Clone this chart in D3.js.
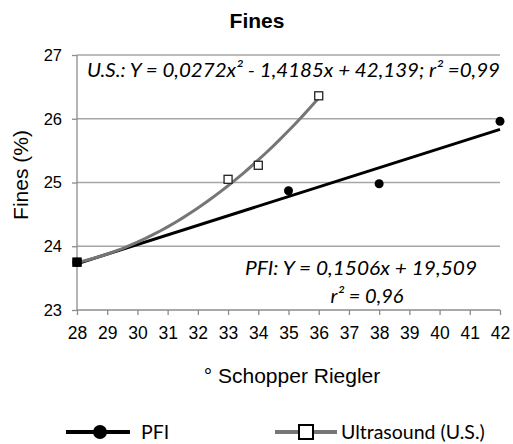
<!DOCTYPE html>
<html>
<head>
<meta charset="utf-8">
<script src="https://cdn.jsdelivr.net/npm/d3@7"></script>
<style>
  body { margin: 0; background: #fff; }
  svg { display: block; }
  .tick text { font-family: "Liberation Sans", Arial, sans-serif; font-size: 16.5px; fill: #000; }
  .x-axis .tick text { font-size: 17.5px; }
</style>
</head>
<body>
<div id="chart"></div>
<script>
'use strict';

// data
const schopper = [28, 29, 30, 31, 32, 33, 34, 35, 36, 37, 38, 39, 40, 41, 42];
const finesTicks = [23, 24, 25, 26, 27];

const pfiX = [28, 35, 38, 42];
const pfiY = [23.75, 24.87, 24.98, 25.96];

const usX = [28, 33, 34, 36];
const usY = [23.75, 25.05, 25.27, 26.36];

// trend line coefficients, as printed on the chart
const pfiFit = [0.1506, 19.509];          // a*x + b
const usFit = [0.0272, -1.4185, 42.139];  // a*x^2 + b*x + c

const width = 513,
  height = 444;

const plotLeft = 77, plotRight = 500, plotTop = 55, plotBottom = 310;

const sansFont = '"Liberation Sans", Arial, sans-serif';
const eqFont = 'Lato, "Open Sans", sans-serif';

const svg = d3.select('#chart')
  .append('svg')
  .attr('width', width)
  .attr('height', height);

const xScale = d3.scaleLinear().domain([28, 42]).range([plotLeft, plotRight]);
const yScale = d3.scaleLinear().domain([23, 27]).range([plotBottom, plotTop]);

// grid
svg.append('g')
  .selectAll('line')
  .data(finesTicks.slice(1))
  .enter()
  .append('line')
  .attr('x1', plotLeft)
  .attr('x2', plotRight)
  .attr('y1', d => yScale(d))
  .attr('y2', d => yScale(d))
  .attr('stroke', '#a6a6a6')
  .attr('stroke-width', 1.3);

const xAxis = d3.axisBottom(xScale).tickValues(schopper).tickSize(5).tickPadding(12).tickFormat(d3.format('d'));
const yAxis = d3.axisLeft(yScale).tickValues(finesTicks).tickSize(5).tickPadding(10).tickFormat(d3.format('d'));

const gx = svg.append('g')
  .attr('class', 'x-axis')
  .attr('transform', `translate(0, ${plotBottom})`)
  .call(xAxis);
const gy = svg.append('g')
  .attr('transform', `translate(${plotLeft}, 0)`)
  .call(yAxis);

[gx, gy].forEach(g => {
  g.select('.domain').attr('stroke', '#8c8c8c').attr('stroke-width', 1.3);
  g.selectAll('.tick line').attr('stroke', '#8c8c8c').attr('stroke-width', 1.3);
});
gy.select('.domain').attr('d', `M0,${plotBottom}V${plotTop}`);
gx.select('.domain').attr('d', `M${plotLeft},0H${plotRight}`);

// trend lines
const line = d3.line().x(d => xScale(d[0])).y(d => yScale(d[1]));

const pfiTrend = [28, 42].map(x => [x, pfiFit[0] * x + pfiFit[1]]);
const usTrend = d3.range(28, 36.01, 0.25).map(x => [x, usFit[0] * x * x + usFit[1] * x + usFit[2]]);

svg.append('path')
  .attr('d', line(pfiTrend))
  .attr('fill', 'none')
  .attr('stroke', '#000')
  .attr('stroke-width', 3);

svg.append('path')
  .attr('d', line(usTrend))
  .attr('fill', 'none')
  .attr('stroke', '#767676')
  .attr('stroke-width', 3);

// markers
svg.append('g')
  .selectAll('rect')
  .data(usX.map((x, i) => [x, usY[i]]))
  .enter()
  .append('rect')
  .attr('x', d => xScale(d[0]) - 4)
  .attr('y', d => yScale(d[1]) - 4)
  .attr('width', 8)
  .attr('height', 8)
  .attr('fill', '#fff')
  .attr('stroke', '#222')
  .attr('stroke-width', 1.3);

svg.append('g')
  .selectAll('circle')
  .data(pfiX.map((x, i) => [x, pfiY[i]]))
  .enter()
  .append('circle')
  .attr('cx', d => xScale(d[0]))
  .attr('cy', d => yScale(d[1]))
  .attr('r', 4.5)
  .attr('fill', '#000');

// the first point shows as a black square
svg.append('rect')
  .attr('x', xScale(usX[0]) - 4.5)
  .attr('y', yScale(usY[0]) - 4.5)
  .attr('width', 9)
  .attr('height', 9)
  .attr('fill', '#000');

// titles
svg.append('text')
  .attr('x', 257)
  .attr('y', 28)
  .attr('text-anchor', 'middle')
  .style('font-family', sansFont)
  .style('font-weight', 'bold')
  .style('font-size', '21px')
  .text('Fines');

svg.append('text')
  .attr('x', 292)
  .attr('y', 383)
  .attr('text-anchor', 'middle')
  .style('font-family', sansFont)
  .style('font-size', '21px')
  .text('° Schopper Riegler');

svg.append('text')
  .attr('transform', 'translate(28, 175) rotate(-90)')
  .attr('text-anchor', 'middle')
  .style('font-family', sansFont)
  .style('font-size', '21px')
  .text('Fines (%)');

// equations
svg.append('text')
  .attr('x', 87)
  .attr('y', 77)
  .attr('textLength', 413)
  .attr('lengthAdjust', 'spacingAndGlyphs')
  .style('font-family', eqFont)
  .style('font-style', 'italic')
  .style('font-size', '20px')
  .text('U.S.: Y = 0,0272x² - 1,4185x + 42,139; r² =0,99');

svg.append('text')
  .attr('x', 245)
  .attr('y', 275)
  .attr('textLength', 232)
  .attr('lengthAdjust', 'spacingAndGlyphs')
  .style('font-family', eqFont)
  .style('font-style', 'italic')
  .style('font-size', '20px')
  .text('PFI: Y = 0,1506x + 19,509');

svg.append('text')
  .attr('x', 367)
  .attr('y', 303)
  .attr('text-anchor', 'middle')
  .style('font-family', eqFont)
  .style('font-style', 'italic')
  .style('font-size', '20px')
  .text('r² = 0,96');

// legend
const legend = svg.append('g').attr('transform', 'translate(0, 432)');

legend.append('line')
  .attr('x1', 66).attr('x2', 130)
  .attr('stroke', '#000').attr('stroke-width', 4);
legend.append('circle')
  .attr('cx', 100).attr('r', 7).attr('fill', '#000');
legend.append('text')
  .attr('x', 141).attr('y', 7)
  .style('font-family', eqFont)
  .style('font-size', '19.5px')
  .text('PFI');

legend.append('line')
  .attr('x1', 275).attr('x2', 337)
  .attr('stroke', '#767676').attr('stroke-width', 4);
legend.append('rect')
  .attr('x', 299).attr('y', -7).attr('width', 14).attr('height', 14)
  .attr('fill', '#fff').attr('stroke', '#000').attr('stroke-width', 2);
legend.append('text')
  .attr('x', 341).attr('y', 7)
  .style('font-family', eqFont)
  .style('font-size', '19.5px')
  .text('Ultrasound (U.S.)');
</script>
</body>
</html>
